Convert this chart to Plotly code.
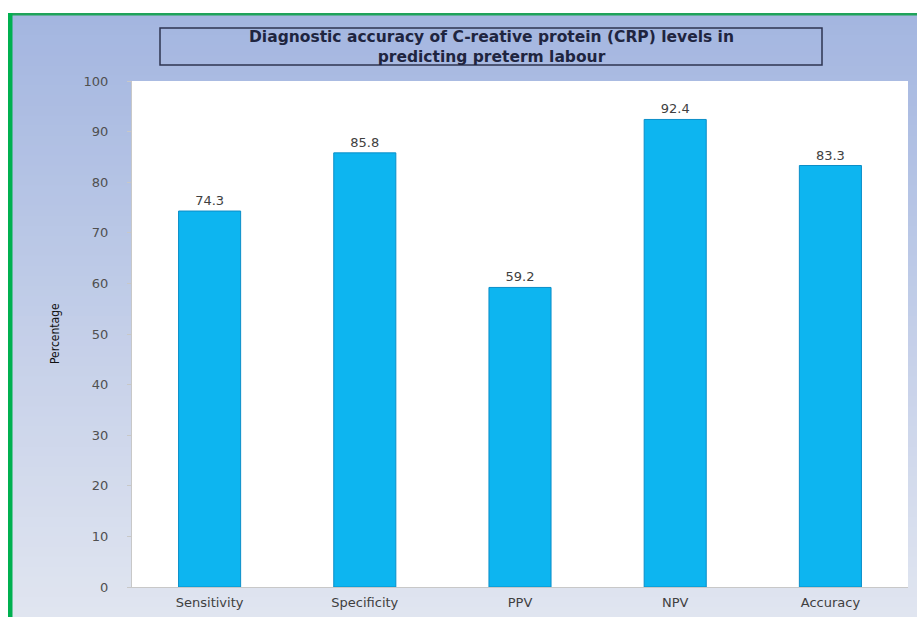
import plotly.graph_objects as go

categories = ["Sensitivity", "Specificity", "PPV", "NPV", "Accuracy"]
values = [74.3, 85.8, 59.2, 92.4, 83.3]
y_ticks = [0, 10, 20, 30, 40, 50, 60, 70, 80, 90, 100]
title_lines = ["Diagnostic accuracy of C-reative protein (CRP) levels in",
               "predicting preterm labour"]
y_title = "Percentage"

W, H = 917, 617
L, R, T, B = 132, 908, 81, 587  # plot area in pixels

def px(x):
    return (x - L) / (R - L)

def py(y):
    return (B - y) / (B - T)

def lerp(c1, c2, t):
    return "#%02x%02x%02x" % tuple(round(a + (b - a) * t) for a, b in zip(c1, c2))

shapes = []
top_c = (0xa4, 0xb6, 0xe0)
bot_c = (0xe0, 0xe5, 0xf0)
N = 60
y0 = 15
for i in range(N):
    ya = y0 + (H - y0) * i / N
    yb = y0 + (H - y0) * (i + 1) / N + 1
    shapes.append(dict(type="rect", xref="paper", yref="paper", layer="below",
                       x0=px(12), x1=px(W + 2), y0=py(ya), y1=py(yb),
                       fillcolor=lerp(top_c, bot_c, i / (N - 1)), line=dict(width=0)))
# green frame
shapes.append(dict(type="rect", xref="paper", yref="paper", layer="below",
                   x0=px(8), x1=px(W + 2), y0=py(13), y1=py(15.5),
                   fillcolor="#1fa35a", line=dict(width=0)))
shapes.append(dict(type="rect", xref="paper", yref="paper", layer="below",
                   x0=px(8), x1=px(12.5), y0=py(13), y1=py(H + 2),
                   fillcolor="#00b050", line=dict(width=0)))
# white plot area
shapes.append(dict(type="rect", xref="paper", yref="paper", layer="below",
                   x0=0, x1=1, y0=0, y1=1, fillcolor="white", line=dict(width=0)))
# title box
shapes.append(dict(type="rect", xref="paper", yref="paper", layer="above",
                   x0=px(160), x1=px(822), y0=py(28), y1=py(65),
                   fillcolor="rgba(0,0,0,0)", line=dict(color="#2e3450", width=1.5)))

fig = go.Figure()
fig.add_trace(go.Bar(
    x=categories, y=values,
    marker=dict(color="#0db5f0", line=dict(color="#0a8ec8", width=1)),
    text=[f"{v:.1f}" for v in values], textposition="outside",
    textfont=dict(family="DejaVu Sans", size=13, color="#404040"),
    cliponaxis=False, width=0.4,
))

annotations = [
    dict(xref="paper", yref="paper", x=px(491), y=py(47), text="<b>" + "<br>".join(title_lines) + "</b>",
         showarrow=False, font=dict(family="DejaVu Sans", size=15.5, color="#1f2540"),
         xanchor="center", yanchor="middle", align="center"),
    dict(xref="paper", yref="paper", x=px(55), y=0.5, text=y_title, textangle=-90,
         showarrow=False, font=dict(family="Liberation Sans Narrow, DejaVu Sans Condensed, Arial Narrow", size=12, color="#111111"),
         xanchor="center", yanchor="middle"),
]

fig.update_layout(
    width=W, height=H,
    margin=dict(l=L, r=W - R, t=T, b=H - B, autoexpand=False),
    paper_bgcolor="white", plot_bgcolor="white",
    shapes=shapes, annotations=annotations,
    showlegend=False,
    xaxis=dict(showgrid=False, showline=True, linecolor="#c8c8c8", linewidth=1,
               tickfont=dict(family="DejaVu Sans", size=13, color="#404040"),
               ticks="", ticklabelstandoff=3),
    yaxis=dict(range=[0, 100], tickvals=y_ticks, showgrid=False, zeroline=False,
               showline=True, linecolor="#c8c8c8", linewidth=1,
               ticks="outside", ticklen=4, tickcolor="#c8c8c8",
               tickfont=dict(family="DejaVu Sans", size=13, color="#505050"),
               ticklabelstandoff=16),
)

fig.write_html("out.html", config={"displayModeBar": False},
               post_script="document.body.style.margin='0';document.body.style.overflow='hidden';")
